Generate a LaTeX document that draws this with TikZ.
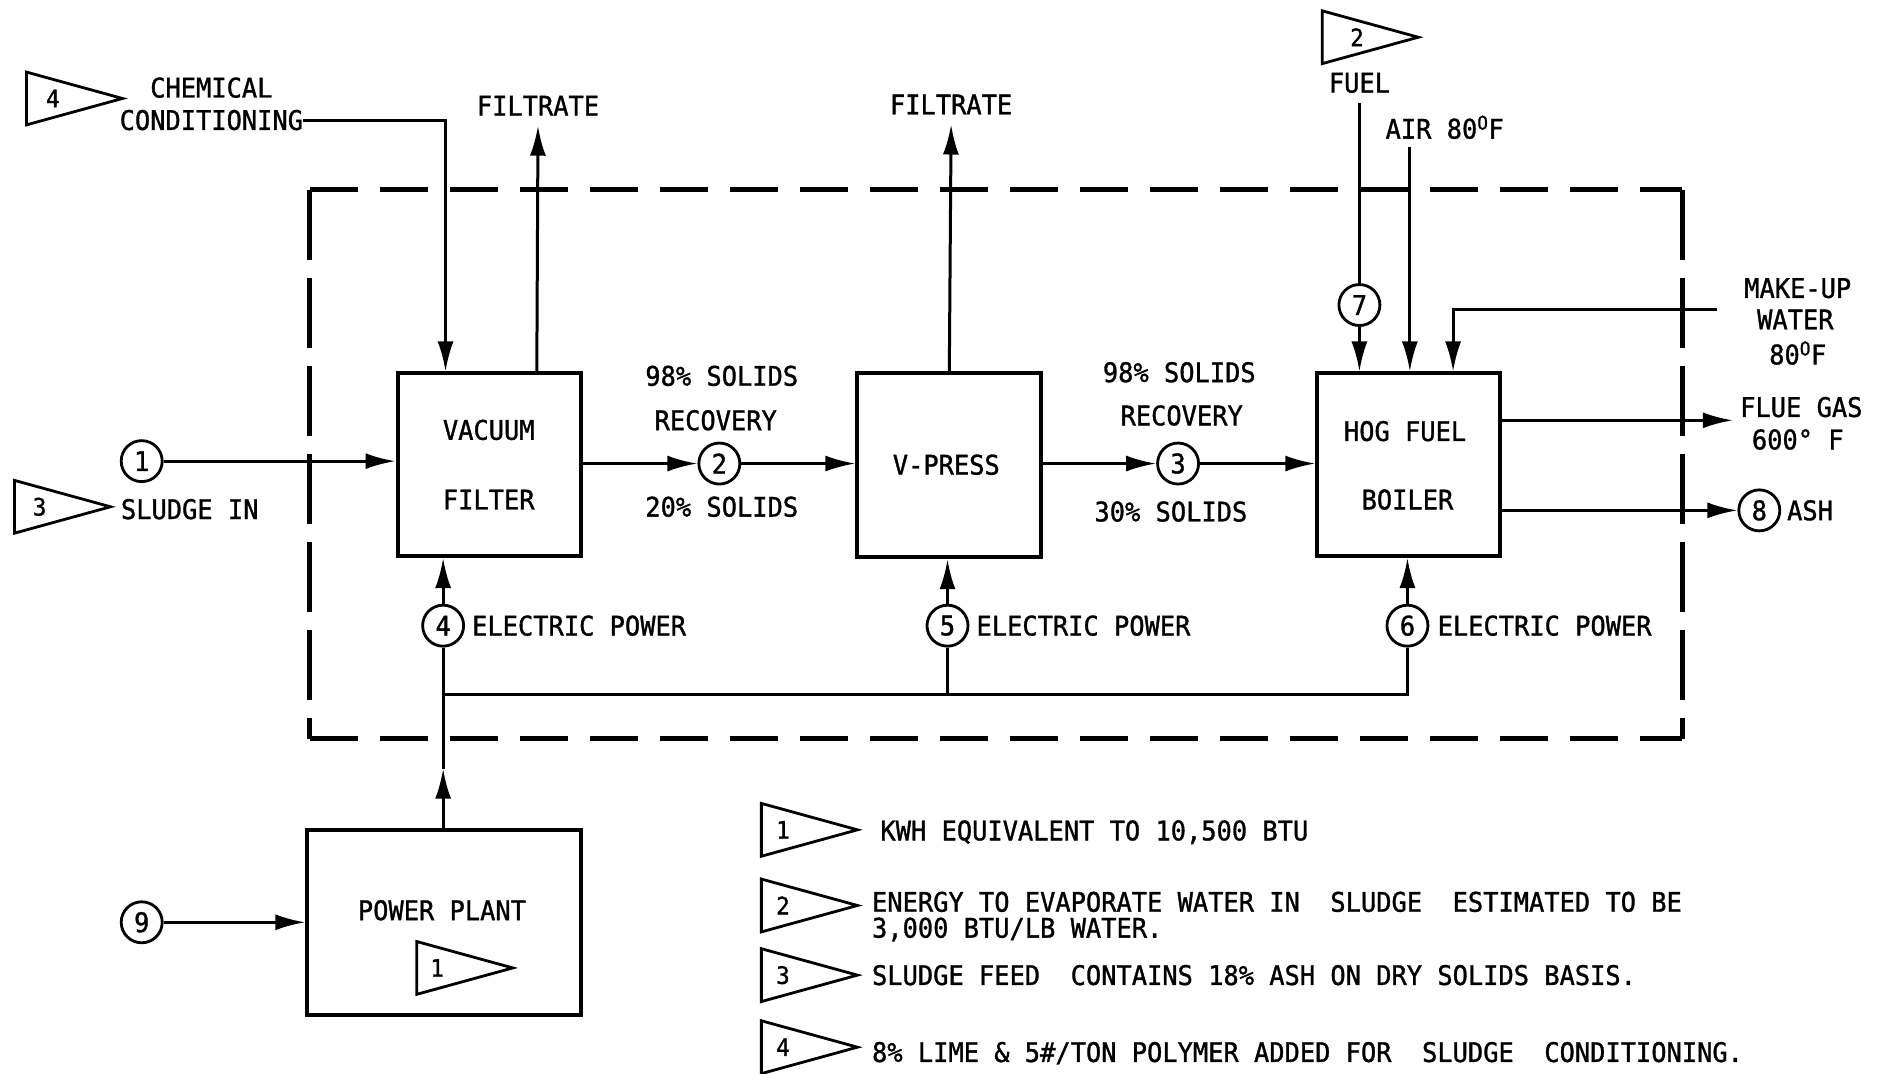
\documentclass[tikz,border=0pt]{standalone}
\usepackage{fontspec}
\setmainfont{DejaVu Sans Mono}[FakeStretch=0.94,FakeBold=1.2]
\usetikzlibrary{arrows.meta}
\def\PX{1.2009pt}
\newcommand\flagtri[5]{% name, x, y, num, numoffset
  \draw[tri] (#2,#3-22) -- (#2+80,#3) -- (#2,#3+22) -- cycle;
  \node[flagnum] (#1) at (#2+#5,#3) {#4};}
\begin{document}
\begin{tikzpicture}[x=1.2009pt,y=-1.2009pt,
  every node/.style={font=\fontsize{27}{28}\selectfont, inner sep=0pt},
  box/.style={draw, line width=4pt},
  circ/.style={draw, circle, line width=2.8pt, minimum size=41pt},
  line/.style={line width=3pt},
  flow/.style={line width=3pt, -{Latex[length=30pt,width=16pt]}},
  tri/.style={line width=2.8pt, line join=miter},
  flagnum/.style={font=\fontsize{24}{24}\selectfont},
  dashh/.style={line width=5pt, dash pattern=on 48pt off 22pt},
  dashv/.style={line width=5pt, dash pattern=on 70pt off 18pt}]
\useasboundingbox (0,0) rectangle (1568,894);

% dashed boundary
\draw[dashh] (258,158) -- (1401,158);
\draw[dashh] (258,615) -- (1401,615);
\draw[dashv] (258,158) -- (258,615);
\draw[dashv] (1401,158) -- (1401,615);

% process boxes
\node[box, minimum width={153*\PX}, minimum height={152*\PX}] (vf) at (407.5,387) {};
\node[box, minimum width={153*\PX}, minimum height={153*\PX}] (vp) at (790.5,387.5) {};
\node[box, minimum width={152*\PX}, minimum height={152*\PX}] (hb) at (1173,387) {};
\node[box, minimum width={228*\PX}, minimum height={154*\PX}] (pp) at (370,768) {};

\node (vft1) at (407,358) {VACUUM};
\node (vft2) at (407,416) {FILTER};
\node (vpt) at (788,387) {V-PRESS};
\node (hbt1) at (1170,359) {HOG FUEL};
\node (hbt2) at (1172,416) {BOILER};
\node (ppt) at (368,758) {POWER PLANT};
\flagtri{ppflag}{347}{806}{1}{17}

% flags
\flagtri{chemflag}{22}{82}{4}{22}
\flagtri{sludgeflag}{12}{422}{3}{21}
\flagtri{fuelflag}{1101}{31}{2}{29}

% labels
\node (chem1) at (176,73) {CHEMICAL};
\node (chem2) at (176,100) {CONDITIONING};
\node (filt1) at (448,88) {FILTRATE};
\node (filt2) at (792,87) {FILTRATE};
\node (sludge) at (158,424) {SLUDGE IN};
\node (s2a) at (601,313) {98\% SOLIDS};
\node (s2b) at (596,350) {RECOVERY};
\node (s2c) at (601,422) {20\% SOLIDS};
\node (s3a) at (982,310) {98\% SOLIDS};
\node (s3b) at (984,346) {RECOVERY};
\node (s3c) at (975,426) {30\% SOLIDS};
\node (fuel) at (1132,69) {FUEL};
\node (air) at (1203,106) {AIR 80\textsuperscript{O}F};
\node (mw1) at (1497,240) {MAKE-UP};
\node (mw2) at (1495,266) {WATER};
\node (mw3) at (1497,294) {80\textsuperscript{O}F};
\node (flue1) at (1500,339) {FLUE GAS};
\node (flue2) at (1497,366) {600° F};
\node[anchor=west] (ash) at (1488,425) {ASH};
\node[anchor=west] (ep4) at (393,521) {ELECTRIC POWER};
\node[anchor=west] (ep5) at (813,521) {ELECTRIC POWER};
\node[anchor=west] (ep6) at (1197,521) {ELECTRIC POWER};

% stream circles
\node[circ] (c1) at (118,384) {1};
\node[circ] (c2) at (599,386) {2};
\node[circ] (c3) at (981,386) {3};
\node[circ] (c4) at (369,521) {4};
\node[circ] (c5) at (789,521) {5};
\node[circ] (c6) at (1172,521) {6};
\node[circ] (c7) at (1132,254) {7};
\node[circ] (c8) at (1465,425) {8};
\node[circ] (c9) at (118,768) {9};

% coordinates
\coordinate (j1) at (369,578);
\coordinate (j2) at (789,578);
\coordinate (j3) at (1172,578);
\coordinate (pparrow) at (369,640);
\coordinate (airtop) at (1174,122);
\coordinate (mwin) at (1430,258);
\coordinate (flueend) at (1443,350);

% connectors
\draw[flow] (chem2.east) -| ([xshift={-36.5*\PX}]vf.north);
\draw[flow] ([xshift={39.5*\PX}]vf.north) -- ([yshift=-10pt]filt1.south);
\draw[flow] (vp.north) -- ([yshift=-10pt]filt2.south);
\draw[flow] (c1.east) -- (c1 -| vf.west);
\draw[flow] (vf.east |- c2) -- (c2.west);
\draw[flow] (c2.east) -- (c2 -| vp.west);
\draw[flow] (vp.east |- c3) -- (c3.west);
\draw[flow] (c3.east) -- (c3 -| hb.west);
\draw[line] ([yshift=-10pt]fuel.south) -- (c7.north);
\draw[flow] (c7.south) -- (c7 |- hb.north);
\draw[flow] (airtop) -- (airtop |- hb.north);
\draw[flow] (mwin) -| ([xshift={37*\PX}]hb.north);
\draw[flow] (hb.east |- flueend) -- (flueend);
\draw[flow] (hb.east |- c8) -- (c8.west);
\draw[line] (j1) -- (c4.south);
\draw[flow] (c4.north) -- (c4 |- vf.south);
\draw[line] (j2) -- (c5.south);
\draw[flow] (c5.north) -- (c5 |- vp.south);
\draw[line] (j1) -- (j3) -- (c6.south);
\draw[flow] (c6.north) -- (c6 |- hb.south);
\draw[flow] (pp.north -| j1) -- (pparrow);
\draw[line] (pparrow) -- (j1);
\draw[flow] (c9.east) -- (c9 -| pp.west);

% legend
\flagtri{lf1}{634}{691}{1}{18}
\flagtri{lf2}{634}{754}{2}{18}
\flagtri{lf3}{634}{812}{3}{18}
\flagtri{lf4}{634}{872}{4}{18}
\node[anchor=west] (lt1) at (733,693) {KWH EQUIVALENT TO 10,500 BTU};
\node[anchor=west] (lt2a) at (726,751) {ENERGY TO EVAPORATE WATER IN~ SLUDGE~ ESTIMATED TO BE};
\node[anchor=west] (lt2b) at (726,774) {3,000 BTU/LB WATER.};
\node[anchor=west] (lt3) at (726,812) {SLUDGE FEED~ CONTAINS 18\% ASH ON DRY SOLIDS BASIS.};
\node[anchor=west] (lt4) at (726,877) {8\% LIME \& 5\#/TON POLYMER ADDED FOR~ SLUDGE~ CONDITIONING.};
\end{tikzpicture}
\end{document}
